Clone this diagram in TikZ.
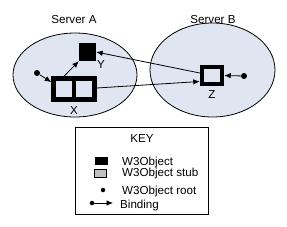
\documentclass[tikz,border=0pt]{standalone}
\usepackage{fontspec}
\setmainfont{Liberation Sans}
\usetikzlibrary{shapes.geometric,arrows.meta}
\definecolor{srvfill}{HTML}{DFE6F2}
\definecolor{stubgrey}{HTML}{C0C0C0}
\tikzset{
  server/.style={ellipse,draw,line width=0.8pt,fill=srvfill,inner sep=0pt},
  obj/.style={fill=black,inner sep=0pt},
  stubbox/.style={draw,line width=4.5pt,inner sep=0pt},
  root/.style={circle,fill=black,inner sep=0pt,minimum size=#1},
  root/.default=6pt,
  bind/.style={->,line width=0.8pt},
  lbl/.style={anchor=base,inner sep=0pt}
}

\begin{document}
\begin{tikzpicture}[x=1pt,y=-1pt,>={Latex[length=6.5pt,width=5.5pt]},
  font=\fontsize{11.6}{13}\selectfont]
\useasboundingbox (0,0) rectangle (287,226);
% Servidors
\node[server,minimum width=124pt,minimum height=84pt] (srvA) at (75,75) {};
\node[server,minimum width=125pt,minimum height=94pt] (srvB) at (212.5,70) {};
\node[lbl] (srvAlbl) at (74,23) {Server A};
\node[lbl] (srvBlbl) at (213,23) {Server B};
% Objectes
\node[obj,minimum width=17pt,minimum height=18pt] (Y) at (87.5,52) {};
\node[stubbox,minimum width=41pt,minimum height=21pt] (X) at (74,89) {};
\draw[line width=4pt] (X.north) -- (X.south);
\node[stubbox,minimum width=20pt,minimum height=17pt] (Z) at (212,75.5) {};
\node[lbl] (Ylbl) at (101,68.5) {Y};
\node[lbl] (Xlbl) at (74,114) {X};
\node[lbl] (Zlbl) at (212,98) {Z};
\node[root] (rootA) at (37,73) {};
\node[root] (rootB) at (244,76) {};
% Enllaços
\draw[bind] (rootA) -- (X.163);
\draw[bind] ([xshift=-10pt]X.north) -- (Y.south west);
\draw[bind] ([yshift=2.5pt]Z.west) -- (Y.east);
\draw[bind] ([yshift=1pt]X.east) -- ([yshift=-6pt]Z.west);
\draw[bind] (rootB) -- (Z.east);
% Llegenda
\node[draw,line width=0.8pt,minimum width=133pt,minimum height=87pt,inner sep=0pt] (key) at (141.5,170.5) {};
\node[lbl] (keylbl) at (142,142.5) {KEY};
\node[obj,minimum width=13pt,minimum height=8pt] (kobj) at (101,161) {};
\node[draw,fill=stubgrey,line width=0.8pt,inner sep=0pt,minimum width=12pt,minimum height=8pt] (kstub) at (100.5,173.5) {};
\node[root=4.5pt] (kroot) at (103,190) {};
\node[root=4.5pt] (kbind) at (92,203) {};
\coordinate (kbindend) at (113,203);
\draw[bind] (kbind) -- (kbindend);
\node[lbl,anchor=base west] (kobjlbl) at (122,165) {W3Object};
\node[lbl,anchor=base west] (kstublbl) at (122,176.5) {W3Object stub};
\node[lbl,anchor=base west] (krootlbl) at (122,194) {W3Object root};
\node[lbl,anchor=base west] (kbindlbl) at (120,208) {Binding};
\end{tikzpicture}
\end{document}
